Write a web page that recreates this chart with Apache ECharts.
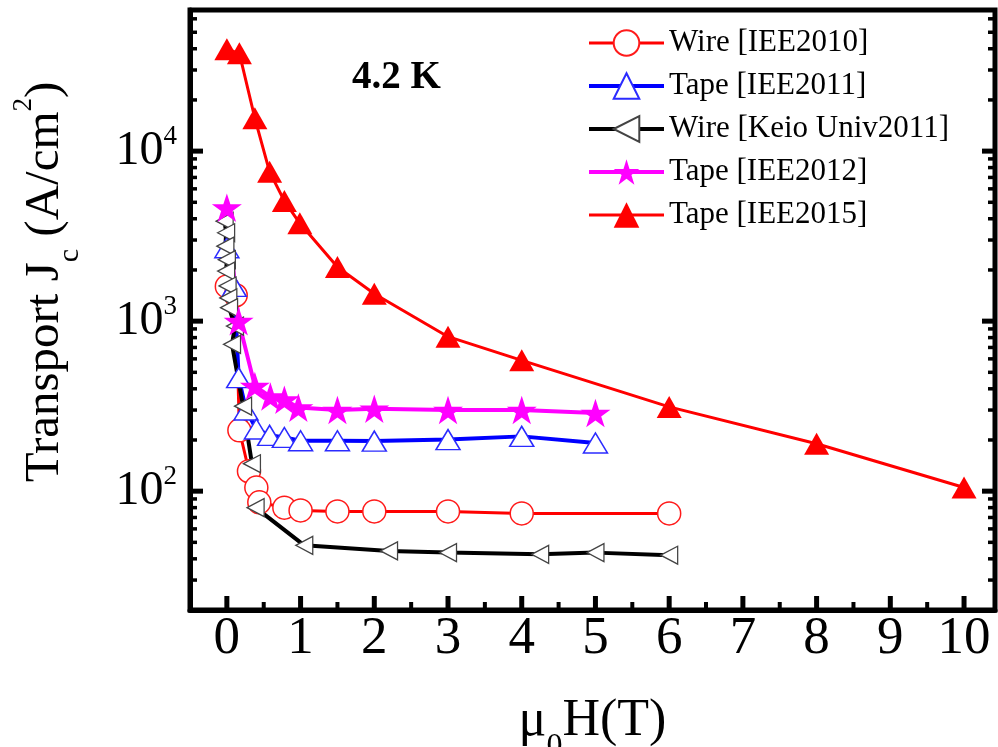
<!DOCTYPE html>
<html>
<head>
<meta charset="utf-8">
<script src="https://cdn.jsdelivr.net/npm/echarts@6/dist/echarts.min.js"></script>
<style>
  html, body { margin: 0; padding: 0; background: #fff; }
  #chart { width: 998px; height: 747px; }
</style>
</head>
<body>
<div id="chart"></div>
<script>
// Transport critical current density vs applied field at 4.2 K

// Wire [IEE2010]
const wire2010Field = [0, 0.12, 0.17, 0.3, 0.4, 0.44, 0.78, 1.0, 1.5, 2.0, 3.0, 4.0, 6.0];
const wire2010Jc    = [1600, 1420, 228, 131, 105, 86, 80, 77, 76, 76, 76, 74, 74];

// Tape [IEE2011]
const tape2011Field = [0, 0.1, 0.16, 0.26, 0.4, 0.58, 0.78, 1.0, 1.5, 2.0, 3.0, 4.0, 5.0];
const tape2011Jc    = [2700, 1600, 465, 300, 232, 213, 207, 198, 198, 197, 201, 210, 192];

// Wire [Keio Univ2011]
const keio2011Field = [-0.03, -0.01, -0.02, 0.0, -0.01, 0.01, 0.02, 0.03, 0.11, 0.07, 0.22, 0.34, 0.39, 1.05, 2.2, 3.0, 4.25, 5.0, 6.0];
const keio2011Jc    = [3870, 3310, 2760, 2300, 1970, 1610, 1370, 1200, 935, 730, 316, 145, 80, 48, 44.5, 43.5, 42.5, 43.5, 42];

// Tape [IEE2012]
const tape2012Field = [0, 0.16, 0.38, 0.59, 0.78, 0.97, 1.5, 2.0, 3.0, 4.0, 5.0];
const tape2012Jc    = [4650, 1000, 415, 360, 345, 310, 300, 305, 300, 300, 288];

// Tape [IEE2015]
const tape2015Field = [0, 0.17, 0.38, 0.58, 0.78, 0.99, 1.5, 2.0, 3.0, 4.0, 6.0, 8.0, 10.0];
const tape2015Jc    = [39700, 37600, 15600, 7550, 5090, 3760, 2080, 1450, 810, 588, 313, 190, 105];

// Tick values
const fieldTicks      = [0, 1, 2, 3, 4, 5, 6, 7, 8, 9, 10];
const fieldMinorTicks = [0.5, 1.5, 2.5, 3.5, 4.5, 5.5, 6.5, 7.5, 8.5, 9.5];
const jcTicks         = [100, 1000, 10000];
const jcMinorTicks    = [30, 40, 50, 60, 70, 80, 90,
                         200, 300, 400, 500, 600, 700, 800, 900,
                         2000, 3000, 4000, 5000, 6000, 7000, 8000, 9000,
                         20000, 30000, 40000, 50000, 60000];

const seriesNames = ['Wire [IEE2010]', 'Tape [IEE2011]', 'Wire [Keio Univ2011]', 'Tape [IEE2012]', 'Tape [IEE2015]'];
const seriesLineWidths = [3, 4, 4, 4, 3];

const FONT = '"Liberation Serif", "Times New Roman", serif';
const STAR = 'path://M50 0 L61.23 34.55 L97.55 34.55 L68.17 55.9 L79.39 90.45 L50 69.1 L20.61 90.45 L31.83 55.9 L2.45 34.55 L38.77 34.55 Z';

const X_MIN = -0.5, X_MAX = 10.42;
const Y_MIN = 20, Y_MAX = 67600;

function pairs(xs, ys) { return xs.map((x, i) => [x, ys[i]]); }

const chart = echarts.init(document.getElementById('chart'), null, { renderer: 'canvas' });

const tempLabel = {
  type: 'text', left: 352, top: 58, z: 100,
  style: { text: '4.2 K', font: 'bold 39px ' + FONT, fill: '#000' }
};

const option = {
  animation: false,
  backgroundColor: '#fff',
  grid: {
    left: 190, right: 3, top: 10, bottom: 137,
    show: true, borderColor: '#000', borderWidth: 5, backgroundColor: 'transparent',
    containLabel: false, outerBoundsMode: 'none'
  },
  legend: {
    orient: 'vertical', left: 582, top: 22,
    itemWidth: 75, itemHeight: 32, itemGap: 11,
    textStyle: { fontFamily: FONT, fontSize: 31, color: '#000', lineHeight: 32 },
    data: seriesNames.map((n, i) => ({ name: n, lineStyle: { width: seriesLineWidths[i] } }))
  },
  graphic: [tempLabel],
  xAxis: {
    type: 'value', position: 'bottom', min: X_MIN, max: X_MAX,
    splitLine: { show: false },
    axisLine: { show: true, onZero: false, lineStyle: { color: '#000', width: 5 } },
    axisTick: { show: false },
    axisLabel: { show: true, customValues: fieldTicks, margin: 3, fontFamily: FONT, fontSize: 53, lineHeight: 53, color: '#000' },
    name: '{m|\u03bc}{s|0}{m|H(T)}',
    nameLocation: 'middle', nameGap: 101,
    nameTextStyle: {
      rich: {
        m: { fontFamily: FONT, fontSize: 52, lineHeight: 52, color: '#000', verticalAlign: 'bottom', padding: [0, 0, 16, 0] },
        s: { fontFamily: FONT, fontSize: 32, lineHeight: 32, color: '#000', verticalAlign: 'bottom' }
      }
    }
  },
  yAxis: {
    type: 'log', logBase: 10, position: 'left', min: Y_MIN, max: Y_MAX,
    splitLine: { show: false },
    axisLine: { show: true, onZero: false, lineStyle: { color: '#000', width: 5 } },
    axisTick: { show: false },
    axisLabel: {
      show: true, customValues: jcTicks, margin: 13,
      formatter: v => '{b|10}{s|' + Math.round(Math.log10(v)) + '}',
      rich: {
        b: { fontFamily: FONT, fontSize: 48, lineHeight: 48, color: '#000', verticalAlign: 'bottom' },
        s: { fontFamily: FONT, fontSize: 27, lineHeight: 27, color: '#000', verticalAlign: 'bottom', padding: [0, 0, 25, 0] }
      }
    },
    name: '{m|Transport J}{s|c}{m| (A/cm}{p|2}{m|)}',
    nameLocation: 'middle', nameRotate: 90, nameGap: 105,
    nameTextStyle: {
      rich: {
        m: { fontFamily: FONT, fontSize: 49, lineHeight: 49, color: '#000', verticalAlign: 'bottom', padding: [0, 0, 15, 0] },
        s: { fontFamily: FONT, fontSize: 30, lineHeight: 30, color: '#000', verticalAlign: 'bottom' },
        p: { fontFamily: FONT, fontSize: 27, lineHeight: 27, color: '#000', verticalAlign: 'bottom', padding: [0, 0, 48, 0] }
      },
      padding: [0, 0, 0, 56]
    }
  },
  series: [
    {
      name: seriesNames[0], type: 'line',
      data: pairs(wire2010Field, wire2010Jc),
      symbol: 'circle', symbolSize: 23,
      color: '#ff0000',
      lineStyle: { color: '#ff0000', width: seriesLineWidths[0] },
      itemStyle: { color: '#fff', borderColor: '#ff1a1a', borderWidth: 1.5 }
    },
    {
      name: seriesNames[1], type: 'line',
      data: pairs(tape2011Field, tape2011Jc),
      symbol: 'triangle', symbolSize: [24, 20],
      color: '#0000ff',
      lineStyle: { color: '#0000ff', width: seriesLineWidths[1] },
      itemStyle: { color: '#fff', borderColor: '#2b2bff', borderWidth: 1.5 }
    },
    {
      name: seriesNames[2], type: 'line',
      data: pairs(keio2011Field, keio2011Jc),
      symbol: 'triangle', symbolSize: [18, 17], symbolRotate: 90,
      color: '#000',
      lineStyle: { color: '#000', width: seriesLineWidths[2] },
      itemStyle: { color: '#fff', borderColor: '#444', borderWidth: 1.3 }
    },
    {
      name: seriesNames[3], type: 'line',
      data: pairs(tape2012Field, tape2012Jc),
      symbol: STAR, symbolSize: 30, symbolKeepAspect: true,
      color: '#ff00ff',
      lineStyle: { color: '#ff00ff', width: seriesLineWidths[3] },
      itemStyle: { color: '#ff00ff' }
    },
    {
      name: seriesNames[4], type: 'line',
      data: pairs(tape2015Field, tape2015Jc),
      symbol: 'triangle', symbolSize: [25, 22],
      color: '#ff0000',
      lineStyle: { color: '#ff0000', width: seriesLineWidths[4] },
      itemStyle: { color: '#ff0000' }
    }
  ]
};

chart.setOption(option);

// Inward tick marks on the frame, positioned through the grid's coordinate system
const toPixel = (x, y) => chart.convertToPixel({ gridIndex: 0 }, [x, y]);
const corner = toPixel(X_MIN, Y_MIN);
const cornerTR = toPixel(X_MAX, Y_MAX);
const frameLeft = corner[0], frameBottom = corner[1], frameRight = cornerTR[0];
const tickMarks = [];
function tickMark(x1, y1, x2, y2, w) {
  tickMarks.push({
    type: 'line', silent: true, z: 60,
    shape: { x1: x1, y1: y1, x2: x2, y2: y2 },
    style: { stroke: '#000', lineWidth: w }
  });
}
fieldTicks.forEach(v => { const x = toPixel(v, Y_MIN)[0]; tickMark(x, frameBottom, x, frameBottom - 14, 5); });
fieldMinorTicks.forEach(v => { const x = toPixel(v, Y_MIN)[0]; tickMark(x, frameBottom, x, frameBottom - 8, 4); });
jcTicks.forEach(v => {
  const y = toPixel(X_MIN, v)[1];
  tickMark(frameLeft, y, frameLeft + 13, y, 5);
  tickMark(frameRight, y, frameRight - 13, y, 5);
});
jcMinorTicks.forEach(v => {
  const y = toPixel(X_MIN, v)[1];
  tickMark(frameLeft, y, frameLeft + 7, y, 3.5);
  tickMark(frameRight, y, frameRight - 7, y, 3.5);
});
const spacer = {
  type: 'text', left: 5, top: 700, z: 100,
  style: { text: ' ', font: '14px sans-serif', fill: '#fff' }
};
chart.setOption({ graphic: [tempLabel, spacer].concat(tickMarks) });
</script>
</body>
</html>
